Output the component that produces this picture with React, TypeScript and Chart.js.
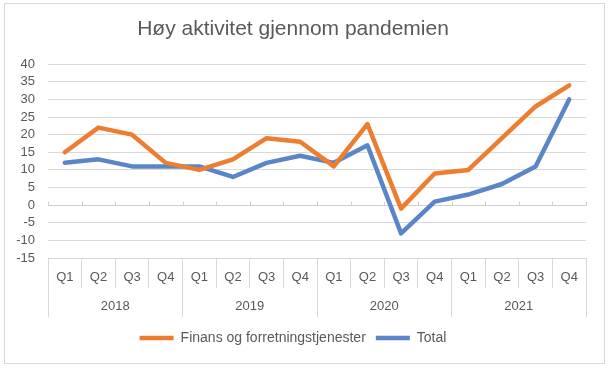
import React, { useEffect, useRef } from "react";
import { Chart, registerables } from "chart.js";

Chart.register(...registerables);

const title = "Høy aktivitet gjennom pandemien";
const quarters = ["Q1", "Q2", "Q3", "Q4", "Q1", "Q2", "Q3", "Q4", "Q1", "Q2", "Q3", "Q4", "Q1", "Q2", "Q3", "Q4"];
const years = ["2018", "2019", "2020", "2021"];
const finansLabel = "Finans og forretningstjenester";
const totalLabel = "Total";
const finans = [15, 22, 20, 12, 10, 13, 19, 18, 11, 23, -1, 9, 10, 19, 28, 34];
const total = [12, 13, 11, 11, 11, 8, 12, 14, 12, 17, -8, 1, 3, 6, 11, 30];
const yMin = -15;
const yMax = 40;
const yStep = 5;

const FONT = "'Liberation Sans', Arial, sans-serif";
const TEXT = "#595959";
const GRID = "#d9d9d9";

export default function App() {
  const ref = useRef<HTMLCanvasElement | null>(null);

  useEffect(() => {
    document.body.style.margin = "0";
    const canvas = ref.current;
    if (!canvas) return;

    const framePlugin = {
      id: "frame",
      beforeDraw(chart: any) {
        const ctx = chart.ctx;
        ctx.save();
        ctx.fillStyle = "#ffffff";
        ctx.fillRect(0, 0, chart.width, chart.height);
        ctx.strokeStyle = GRID;
        ctx.lineWidth = 1;
        ctx.strokeRect(4.5, 3.5, 600, 360);
        ctx.restore();
      },
    };

    const zeroAxisPlugin = {
      id: "zeroAxis",
      beforeDatasetsDraw(chart: any) {
        const ctx = chart.ctx;
        const xs = chart.scales.x;
        const y0 = Math.round(chart.scales.y.getPixelForValue(0)) + 0.5;
        ctx.save();
        ctx.strokeStyle = "#d0d0d0";
        ctx.lineWidth = 1;
        ctx.beginPath();
        ctx.moveTo(chart.chartArea.left, y0);
        ctx.lineTo(chart.chartArea.right, y0);
        for (let i = 0; i <= quarters.length; i++) {
          const x = Math.round(xs.getPixelForValue(i - 0.5)) + 0.5;
          ctx.moveTo(x, y0);
          ctx.lineTo(x, y0 - 4);
        }
        ctx.stroke();
        ctx.restore();
      },
    };

    const chart = new Chart(canvas, {
      type: "line",
      data: {
        labels: quarters,
        datasets: [
          {
            label: finansLabel,
            data: finans,
            borderColor: "#ED7D31",
            backgroundColor: "#ED7D31",
            borderWidth: 4.5,
            pointRadius: 0,
            tension: 0,
            borderJoinStyle: "round",
            borderCapStyle: "round",
          },
          {
            label: totalLabel,
            data: total,
            borderColor: "#5A86C9",
            backgroundColor: "#5A86C9",
            borderWidth: 4.5,
            pointRadius: 0,
            tension: 0,
            borderJoinStyle: "round",
            borderCapStyle: "round",
          },
        ],
      },
      plugins: [framePlugin, zeroAxisPlugin],
      options: {
        responsive: false,
        animation: false,
        layout: { padding: { top: 0, left: 0, right: 24, bottom: 16 } },
        plugins: {
          title: {
            display: true,
            text: title,
            color: TEXT,
            font: { family: FONT, size: 21, weight: "normal" },
            padding: { top: 17, bottom: 22 },
          },
          legend: {
            display: true,
            position: "bottom",
            labels: {
              usePointStyle: true,
              pointStyle: "line",
              pointStyleWidth: 34,
              color: TEXT,
              font: { family: FONT, size: 14 },
              padding: 10,
            },
          },
          tooltip: { enabled: false },
        },
        scales: {
          x: {
            type: "category",
            labels: quarters,
            position: "bottom",
            offset: true,
            grid: {
              offset: true,
              drawOnChartArea: false,
              drawTicks: true,
              tickLength: 30,
              color: GRID,
              lineWidth: 1,
            },
            border: { display: false },
            ticks: {
              color: TEXT,
              font: { family: FONT, size: 13 },
              padding: -18,
              maxRotation: 0,
              autoSkip: false,
            },
            afterFit: (s: any) => {
              s.height = 30;
            },
          },
          x2: {
            type: "category",
            labels: years,
            position: "bottom",
            offset: true,
            grid: {
              offset: true,
              drawOnChartArea: false,
              drawTicks: true,
              tickLength: 29,
              color: GRID,
              lineWidth: 1,
            },
            border: { display: false },
            ticks: {
              color: TEXT,
              font: { family: FONT, size: 13 },
              padding: -18,
              maxRotation: 0,
              autoSkip: false,
            },
            afterFit: (s: any) => {
              s.height = 33;
            },
          },
          y: {
            min: yMin,
            max: yMax,
            ticks: {
              stepSize: yStep,
              color: TEXT,
              font: { family: FONT, size: 13 },
              padding: 13,
              autoSkip: false,
            },
            grid: { color: GRID, drawTicks: false, lineWidth: 1 },
            border: { display: false },
            afterFit: (s: any) => {
              s.width = 48;
            },
          },
        },
      },
    } as any);

    return () => chart.destroy();
  }, []);

  return (
    <div style={{ width: 610, height: 371 }}>
      <canvas ref={ref} width={610} height={371} style={{ display: "block" }} />
    </div>
  );
}
